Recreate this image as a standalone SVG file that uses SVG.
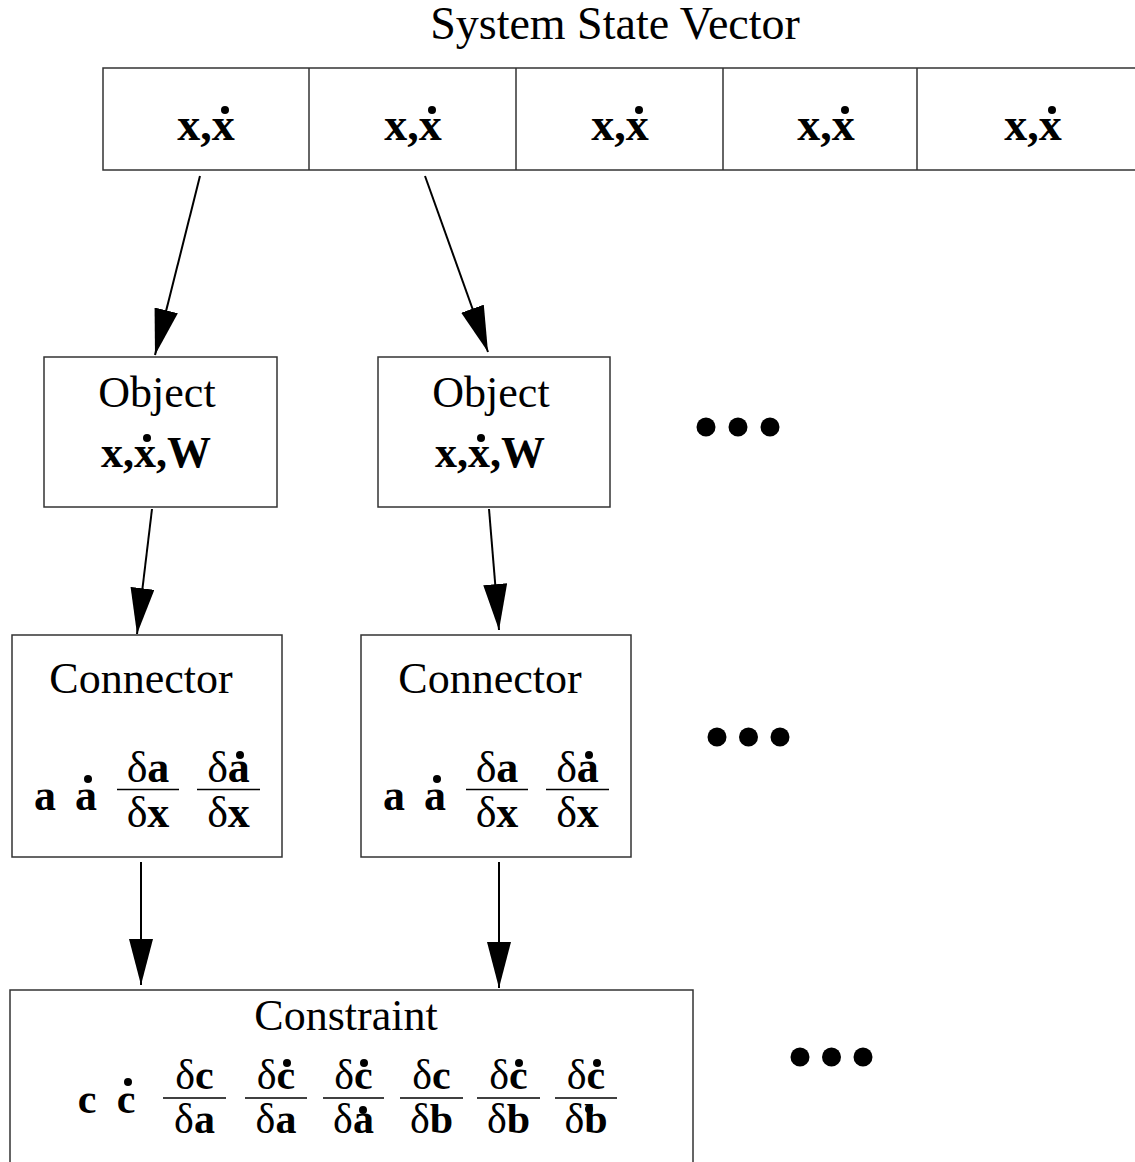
<svg xmlns="http://www.w3.org/2000/svg" width="1135" height="1162" viewBox="0 0 1135 1162">
  <style>
    text { font-family: "Liberation Serif", "Times New Roman", serif; fill: #000; text-anchor: middle; }
    .title { font-size: 46px; }
    .lbl { font-size: 44px; }
    .m { font-size: 44px; font-weight: bold; }
    .ms { font-size: 42px; font-weight: bold; }
    .g { font-weight: normal; }
    .box { fill: #fff; stroke: #333; stroke-width: 1.5; }
    .div { stroke: #333; stroke-width: 1.5; }
    .bar { stroke: #000; stroke-width: 1.5; }
    .acc { fill: #000; }
    .more { fill: #000; }
    .edge { stroke: #000; stroke-width: 2; fill: none; marker-end: url(#ah); }
  </style>
  <defs>
    <marker id="ah" markerUnits="userSpaceOnUse" viewBox="0 0 46 24" markerWidth="46" markerHeight="24" refX="46" refY="12" orient="auto">
      <path d="M0,0 L46,12 L0,24 z" fill="#000"/>
    </marker>
  </defs>
  <rect width="1135" height="1162" fill="#fff"/>

  <!-- state vector -->
  <g id="state-vector">
    <text class="title" x="615" y="39">System State Vector</text>
    <rect class="box" x="103" y="68" width="1045" height="102"/>
    <line class="div" x1="309" y1="68" x2="309" y2="170"/>
    <line class="div" x1="516" y1="68" x2="516" y2="170"/>
    <line class="div" x1="723" y1="68" x2="723" y2="170"/>
    <line class="div" x1="917" y1="68" x2="917" y2="170"/>
    <g class="m" style="font-size:46px">
      <text x="206" y="140">x,x</text>
      <text x="413" y="140">x,x</text>
      <text x="620" y="140">x,x</text>
      <text x="826" y="140">x,x</text>
      <text x="1033" y="140">x,x</text>
    </g>
    <circle class="acc" cx="225" cy="110" r="4"/>
    <circle class="acc" cx="432" cy="110" r="4"/>
    <circle class="acc" cx="639" cy="110" r="4"/>
    <circle class="acc" cx="845" cy="110" r="4"/>
    <circle class="acc" cx="1052" cy="110" r="4"/>
  </g>

  <!-- objects -->
  <g id="object-1">
    <rect class="box" x="44" y="357" width="233" height="150"/>
    <text class="lbl" x="157" y="407">Object</text>
    <text class="m" x="156" y="467">x,x,W</text>
    <circle class="acc" cx="147" cy="438" r="4"/>
  </g>
  <g id="object-2">
    <rect class="box" x="378" y="357" width="232" height="150"/>
    <text class="lbl" x="491" y="407">Object</text>
    <text class="m" x="490" y="467">x,x,W</text>
    <circle class="acc" cx="481" cy="438" r="4"/>
  </g>
  <g id="more-objects">
    <circle class="more" cx="706" cy="427" r="9.5"/>
    <circle class="more" cx="738" cy="427" r="9.5"/>
    <circle class="more" cx="770" cy="427" r="9.5"/>
  </g>

  <!-- connectors -->
  <g id="connector-1">
    <rect class="box" x="12" y="635" width="270" height="222"/>
    <text class="lbl" x="141" y="693">Connector</text>
    <text class="m" x="45" y="810">a</text>
    <text class="m" x="86" y="810">a</text>
    <circle class="acc" cx="88" cy="779" r="4"/>
    <line class="bar" x1="117" y1="789.5" x2="179" y2="789.5"/>
    <text class="m" x="148" y="782"><tspan class="g">δ</tspan>a</text>
    <text class="m" x="148" y="827"><tspan class="g">δ</tspan>x</text>
    <line class="bar" x1="197" y1="789.5" x2="260" y2="789.5"/>
    <text class="m" x="228.5" y="782"><tspan class="g">δ</tspan>a</text>
    <circle class="acc" cx="240" cy="755" r="4"/>
    <text class="m" x="228.5" y="827"><tspan class="g">δ</tspan>x</text>
  </g>
  <g id="connector-2">
    <rect class="box" x="361" y="635" width="270" height="222"/>
    <text class="lbl" x="490" y="693">Connector</text>
    <text class="m" x="394" y="810">a</text>
    <text class="m" x="435" y="810">a</text>
    <circle class="acc" cx="437" cy="779" r="4"/>
    <line class="bar" x1="466" y1="789.5" x2="528" y2="789.5"/>
    <text class="m" x="497" y="782"><tspan class="g">δ</tspan>a</text>
    <text class="m" x="497" y="827"><tspan class="g">δ</tspan>x</text>
    <line class="bar" x1="546" y1="789.5" x2="609" y2="789.5"/>
    <text class="m" x="577.5" y="782"><tspan class="g">δ</tspan>a</text>
    <circle class="acc" cx="589" cy="755" r="4"/>
    <text class="m" x="577.5" y="827"><tspan class="g">δ</tspan>x</text>
  </g>
  <g id="more-connectors">
    <circle class="more" cx="717" cy="737" r="9.5"/>
    <circle class="more" cx="748.5" cy="737" r="9.5"/>
    <circle class="more" cx="780" cy="737" r="9.5"/>
  </g>

  <!-- constraint -->
  <g id="constraint">
    <rect class="box" x="10" y="990" width="683" height="190"/>
    <text class="lbl" x="346" y="1030">Constraint</text>
    <text class="ms" x="87" y="1113">c</text>
    <text class="ms" x="126" y="1113">c</text>
    <circle class="acc" cx="128" cy="1082" r="4"/>

    <line class="bar" x1="163" y1="1098" x2="226" y2="1098"/>
    <text class="ms" x="194.5" y="1089"><tspan class="g">δ</tspan>c</text>
    <text class="ms" x="194.5" y="1133"><tspan class="g">δ</tspan>a</text>

    <line class="bar" x1="245" y1="1098" x2="307" y2="1098"/>
    <text class="ms" x="276" y="1089"><tspan class="g">δ</tspan>c</text>
    <circle class="acc" cx="287" cy="1063" r="4"/>
    <text class="ms" x="276" y="1133"><tspan class="g">δ</tspan>a</text>

    <line class="bar" x1="323" y1="1098" x2="384" y2="1098"/>
    <text class="ms" x="353.5" y="1089"><tspan class="g">δ</tspan>c</text>
    <circle class="acc" cx="364" cy="1063" r="4"/>
    <text class="ms" x="353.5" y="1133"><tspan class="g">δ</tspan>a</text>
    <circle class="acc" cx="363" cy="1110" r="4"/>

    <line class="bar" x1="400" y1="1098" x2="463" y2="1098"/>
    <text class="ms" x="431.5" y="1089"><tspan class="g">δ</tspan>c</text>
    <text class="ms" x="431.5" y="1133"><tspan class="g">δ</tspan>b</text>

    <line class="bar" x1="477" y1="1098" x2="540" y2="1098"/>
    <text class="ms" x="508.5" y="1089"><tspan class="g">δ</tspan>c</text>
    <circle class="acc" cx="519" cy="1063" r="4"/>
    <text class="ms" x="508.5" y="1133"><tspan class="g">δ</tspan>b</text>

    <line class="bar" x1="555" y1="1098" x2="617" y2="1098"/>
    <text class="ms" x="586" y="1089"><tspan class="g">δ</tspan>c</text>
    <circle class="acc" cx="597" cy="1063" r="4"/>
    <text class="ms" x="586" y="1133"><tspan class="g">δ</tspan>b</text>
    <circle class="acc" cx="589" cy="1109" r="4"/>
  </g>
  <g id="more-constraints">
    <circle class="more" cx="800" cy="1057" r="9.5"/>
    <circle class="more" cx="831.5" cy="1057" r="9.5"/>
    <circle class="more" cx="863" cy="1057" r="9.5"/>
  </g>

  <!-- data flow arrows -->
  <g id="connectors">
    <line class="edge" x1="200" y1="176" x2="155" y2="355"/>
    <line class="edge" x1="425" y1="176" x2="488" y2="352"/>
    <line class="edge" x1="152" y1="509" x2="137" y2="634"/>
    <line class="edge" x1="489" y1="509" x2="499" y2="630"/>
    <line class="edge" x1="141" y1="862" x2="141" y2="985"/>
    <line class="edge" x1="499" y1="862" x2="499" y2="988"/>
  </g>
</svg>
